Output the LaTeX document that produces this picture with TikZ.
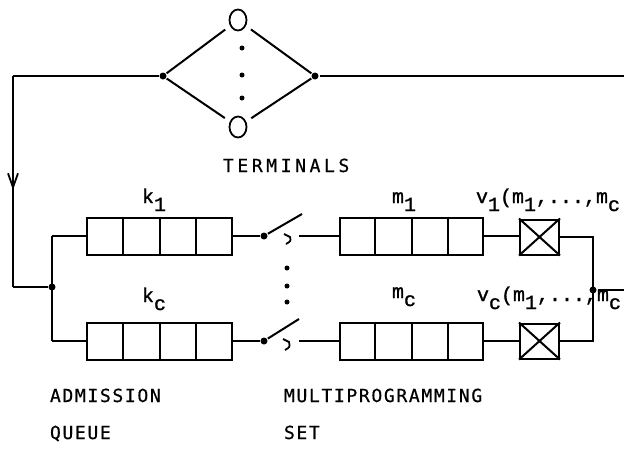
\documentclass[tikz,border=0pt]{standalone}
\usepackage{fontspec}
\newfontfamily\labfont[LetterSpace=9.2,FakeBold=0.6]{DejaVu Sans Mono}
\newfontfamily\termfont[LetterSpace=20,FakeBold=0.6]{DejaVu Sans Mono}
\newfontfamily\twfont[FakeBold=1.2]{Liberation Mono}
\usetikzlibrary{calc,decorations.markings,shapes.geometric,arrows.meta}
\newcommand{\lowr}[1]{\raisebox{-8pt}{#1}}
\begin{document}
\begin{tikzpicture}[x=1pt,y=-1pt,line width=2pt,
  queue/.style={draw,rectangle,minimum width=145pt,minimum height=37pt,inner sep=0pt},
  server/.style={draw,rectangle,minimum width=39pt,minimum height=35pt,inner sep=0pt},
  term/.style={draw,ellipse,minimum width=17pt,minimum height=21pt,inner sep=0pt,line width=1.8pt},
  jdot/.style={circle,fill,inner sep=0pt,minimum size=7pt},
  smalldot/.style={circle,fill,inner sep=0pt,minimum size=5pt},
  lab/.style={font=\labfont\fontsize{18}{18}\selectfont,inner sep=0pt,anchor=base west},
  termlab/.style={font=\termfont\fontsize{18}{18}\selectfont,inner sep=0pt,anchor=base west},
  tw/.style={font=\twfont\fontsize{20}{20}\selectfont,inner sep=0pt,anchor=base west},
  hook/.style={line width=1.8pt}
]
\useasboundingbox (0,0) rectangle (624,456);

% terminals
\node[term] (t1) at (238,20) {};
\node[term] (tn) at (238,127) {};
\node[smalldot] (td1) at (242,48) {};
\node[smalldot] (td2) at (242,75) {};
\node[smalldot] (td3) at (242,98) {};
\node[jdot] (jl) at (163,76) {};
\node[jdot] (jr) at (315,76) {};
\draw[shorten >=6pt] (jl) -- (t1);
\draw[shorten >=6pt] (jl) -- (tn);
\draw[shorten <=6pt] (t1) -- (jr);
\draw[shorten <=6pt] (tn) -- (jr);
\node[termlab] (terms) at (222,172) {TERMINALS};

% feedback line
\coordinate (er) at (624,76);
\coordinate (tl) at (13,76);
\coordinate (bl) at (13,287);
\node[jdot] (split) at (52,287) {};
\coordinate (splitT) at (52,236);
\coordinate (splitB) at (52,341);
\draw (jr) -- (er);
\draw (jl) -- (tl);
\draw[decoration={markings,mark=at position 114pt with {\arrow{Straight Barb[length=14pt,width=10pt,line width=1.8pt]}}},postaction=decorate] (tl) -- (bl);
\draw (bl) -- (split);
\draw (splitT) -- (splitB);

% admission queues
\node[queue] (qk1) at (159.5,236) {};
\node[queue] (qkc) at (159.5,341) {};
\draw (splitT) -- (qk1.west);
\draw (splitB) -- (qkc.west);

% switches
\node[jdot] (sw1) at (264,236) {};
\node[jdot] (swc) at (264,341) {};
\coordinate (b1) at (302,214);
\coordinate (bc) at (299,319);
\draw (qk1.east) -- (sw1);
\draw (qkc.east) -- (swc);
\draw (sw1) -- (b1);
\draw (swc) -- (bc);
\draw[hook] (284,234) -- (290,237) .. controls (291,241) .. (286,244);
\draw[hook] (283,339) -- (289,342) .. controls (290,347) .. (285,350);
\coordinate (c1) at (299,236);
\coordinate (cc) at (299,341);
\node[smalldot] (sd1) at (287,268) {};
\node[smalldot] (sd2) at (287,286) {};
\node[smalldot] (sd3) at (287,302) {};

% multiprogramming queues
\node[queue,minimum width=143pt] (qm1) at (411.5,236) {};
\node[queue,minimum width=143pt] (qmc) at (411.5,341) {};
\draw (c1) -- (qm1.west);
\draw (cc) -- (qmc.west);

\foreach \q in {qk1,qkc,qm1,qmc}{
  \foreach \f in {0.25,0.5,0.75}{
    \draw ($(\q.north west)!\f!(\q.north east)$) -- ($(\q.south west)!\f!(\q.south east)$);
  }
}

% servers
\node[server] (s1) at (539.5,237) {};
\node[server] (sc) at (539.5,341) {};
\draw (s1.north west) -- (s1.south east) (s1.north east) -- (s1.south west);
\draw (sc.north west) -- (sc.south east) (sc.north east) -- (sc.south west);
\draw (qm1.east) -- (qm1.east -| s1.west);
\draw (qmc.east) -- (qmc.east -| sc.west);

% output junction
\coordinate (rt) at (593,237);
\coordinate (rb) at (593,341);
\node[jdot] (jo) at (593,290) {};
\coordinate (ero) at (624,290);
\draw (s1.east) -- (rt) -- (rb) -- (sc.east);
\draw (jo) -- (ero);

% labels
\node[tw] (lk1) at (141,203) {k\lowr{1}};
\node[tw] (lkc) at (141,302) {k\lowr{c}};
\node[tw] (lm1) at (391,203) {m\lowr{1}};
\node[tw] (lmc) at (391,298) {m\lowr{c}};
\node[tw] (lv1) at (475,203) {v\lowr{1}(m\lowr{1},...,m\lowr{c}};
\node[tw] (lvc) at (476,301) {v\lowr{c}(m\lowr{1},...,m\lowr{c}};

\node[lab] (adm) at (49,402) {ADMISSION};
\node[lab] (que) at (49,439) {QUEUE};
\node[lab] (mps) at (283,402) {MULTIPROGRAMMING};
\node[lab] (set) at (283,439) {SET};
\end{tikzpicture}
\end{document}
